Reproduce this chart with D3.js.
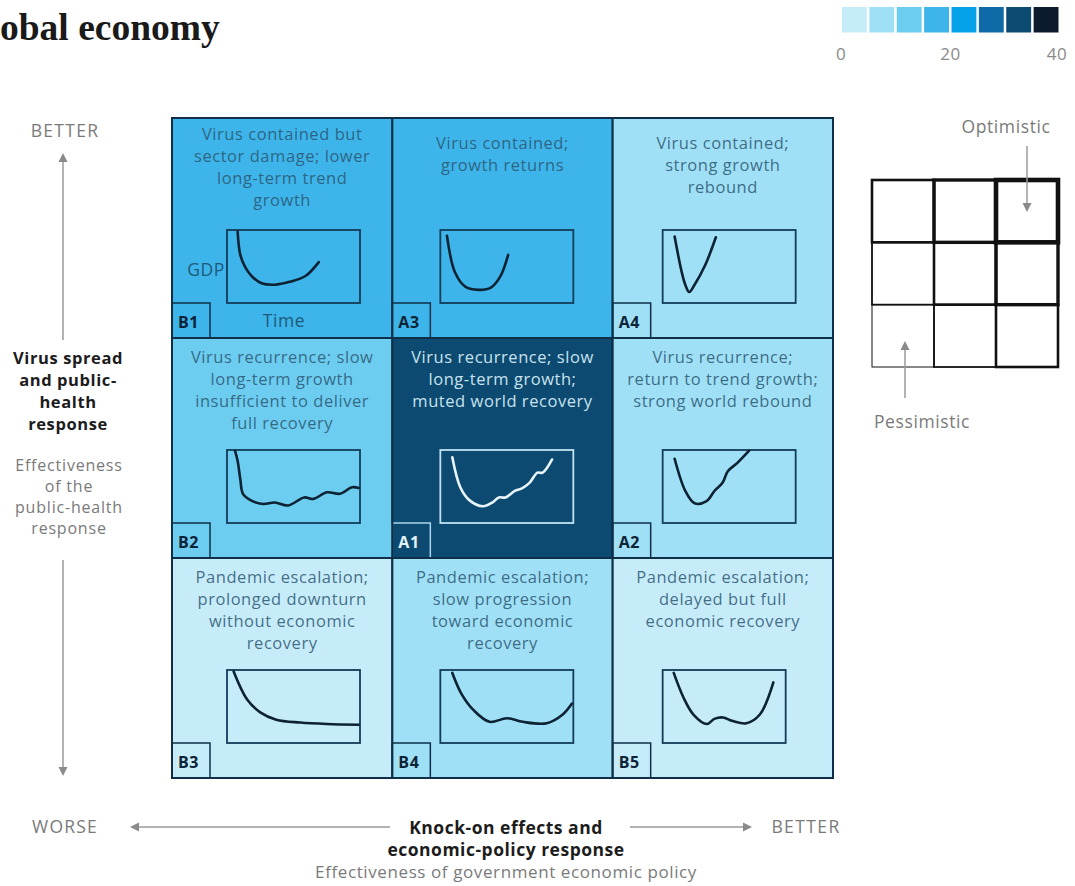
<!DOCTYPE html>
<html>
<head>
<meta charset="utf-8">
<script src="https://cdn.jsdelivr.net/npm/d3@7"></script>
<style>
  html, body { margin: 0; padding: 0; background: #fff; }
  svg { display: block; }
</style>
</head>
<body>
<svg id="chart" width="1075" height="886"></svg>
<script>
// ---------------- DATA ----------------
const cellCodes  = ["B1", "A3", "A4", "B2", "A1", "A2", "B3", "B4", "B5"];
const cellRows   = [0, 0, 0, 1, 1, 1, 2, 2, 2];
const cellCols   = [0, 1, 2, 0, 1, 2, 0, 1, 2];
const cellValues = [18, 17, 8, 13, 33, 7, 3, 8, 2];
const cellTexts = [
  ["Virus contained but", "sector damage; lower", "long-term trend", "growth"],
  ["Virus contained;", "growth returns"],
  ["Virus contained;", "strong growth", "rebound"],
  ["Virus recurrence; slow", "long-term growth", "insufficient to deliver", "full recovery"],
  ["Virus recurrence; slow", "long-term growth;", "muted world recovery"],
  ["Virus recurrence;", "return to trend growth;", "strong world rebound"],
  ["Pandemic escalation;", "prolonged downturn", "without economic", "recovery"],
  ["Pandemic escalation;", "slow progression", "toward economic", "recovery"],
  ["Pandemic escalation;", "delayed but full", "economic recovery"]
];
// GDP paths: [time %, GDP %] inside each small box
const gdpB1 = [[8,98],[10,66],[14,48],[19,36],[26,27],[36,25],[47,29],[59,37],[69,56]];
const gdpA3 = [[5,92],[11,42],[19,22],[29,18],[38,21],[45,36],[51,66]];
const gdpA4 = [[9,91],[14,45],[17,25],[20,15],[24,25],[32,52],[40,90]];
const gdpB2 = [[6,99],[8,85],[10,60],[12,40],[18,31],[27,26],[36,28],[46,24],[58,35],[65,33],[75,42],[85,40],[94,49],[99,48]];
const gdpA1 = [[9,90],[15,49],[22,31],[32,23],[39,28],[44,35],[49,35],[56,44],[61,47],[67,55],[73,69],[77,69],[84,87]];
const gdpA2 = [[9,88],[17,44],[24,27],[33,30],[39,44],[45,55],[49,71],[56,82],[65,99]];
const gdpB3 = [[5,98],[15,60],[25,42],[37,32],[55,28],[75,26],[99,25]];
const gdpB4 = [[9,96],[16,67],[25,45],[37,29],[50,34],[62,29],[80,27],[92,39],[99,54]];
const gdpB5 = [[9,96],[17,62],[25,39],[36,26],[42,33],[49,35],[57,30],[68,27],[79,39],[90,83]];
const gdpByCode = {B1: gdpB1, A3: gdpA3, A4: gdpA4, B2: gdpB2, A1: gdpA1, A2: gdpA2, B3: gdpB3, B4: gdpB4, B5: gdpB5};

const legendBins   = [0, 5, 10, 15, 20, 25, 30, 35];
const legendColors = ["#c6ecfa", "#9fe0f6", "#6ccdf0", "#3db4ea", "#05a2ea", "#0f6ba8", "#0c4a71", "#0b1b2d"];
const legendTicks  = [0, 20, 40];

const titleText = "obal economy"; // title is cropped at the left edge in the original

// ---------------- DRAW ----------------
const svg = d3.select("#chart");
const FONT = "'Open Sans', 'Noto Sans', sans-serif";
const DARK = "#0e2f47";
const GREY = "#7a7a7a";

svg.append("text")
  .attr("x", 0).attr("y", 40)
  .attr("font-family", "'Liberation Serif', 'Times New Roman', serif")
  .attr("font-weight", "bold")
  .attr("font-size", 37.5)
  .attr("fill", "#1a1a1a")
  .text(titleText);

// legend
const legendX = d3.scaleLinear().domain([0, 40]).range([841, 1060]);
const color = d3.scaleThreshold().domain(legendBins.slice(1)).range(legendColors);
const step = legendX(5) - legendX(0);
svg.append("g").selectAll("rect").data(legendBins).join("rect")
  .attr("x", d => legendX(d) + 1)
  .attr("y", 7)
  .attr("width", step - 2.5)
  .attr("height", 25.5)
  .attr("fill", (d, i) => legendColors[i]);
svg.append("g").selectAll("text").data(legendTicks).join("text")
  .attr("x", d => legendX(d) - (d === 40 ? 3 : 0))
  .attr("y", 60)
  .attr("text-anchor", "middle")
  .attr("font-family", FONT)
  .attr("font-size", 17)
  .attr("letter-spacing", 0.5)
  .attr("fill", "#8a8a8a")
  .text(d => d);

// main grid
const gx = d3.scaleBand().domain([0, 1, 2]).range([172, 833]);
const gy = d3.scaleBand().domain([0, 1, 2]).range([118, 778]);
const cells = cellCodes.map((c, i) => ({
  code: c, row: cellRows[i], col: cellCols[i], value: cellValues[i], lines: cellTexts[i], gdp: gdpByCode[c]
}));

const boxOffset = [55, 48, 50];
const firstLine = {B1: 22, A3: 31, A4: 31};

const cg = svg.append("g").selectAll("g.cell").data(cells).join("g").attr("class", "cell")
  .attr("transform", d => `translate(${gx(d.col)},${gy(d.row)})`);

const cw = gx.bandwidth(), ch = gy.bandwidth();

cg.append("rect")
  .attr("width", cw).attr("height", ch)
  .attr("fill", d => color(d.value));

cg.each(function(d) {
  const sel = d3.select(this);
  const dark = d.value >= 25;
  const txt = dark ? "#c8e2ee" : "#2b5670";
  const fl = firstLine[d.code] || 25;
  sel.append("g").selectAll("text").data(d.lines).join("text")
    .attr("x", cw / 2)
    .attr("y", (l, i) => fl + i * 22)
    .attr("text-anchor", "middle")
    .attr("font-family", FONT)
    .attr("font-size", 16.5)
    .attr("letter-spacing", 0.55)
    .attr("fill", txt)
    .attr("fill-opacity", dark ? 1 : 0.85)
    .text(l => l);

  const bx = boxOffset[d.col], by = 112, bw = d.code === "B5" ? 123 : 133, bh = 73;
  sel.append("rect")
    .attr("x", bx).attr("y", by).attr("width", bw).attr("height", bh)
    .attr("fill", "none")
    .attr("stroke", dark ? "#bfe2f1" : "#123c58")
    .attr("stroke-width", 1.8);
  const sx = d3.scaleLinear().domain([0, 100]).range([bx, bx + bw]);
  const sy = d3.scaleLinear().domain([0, 100]).range([by + bh, by]);
  const line = d3.line().x(p => sx(p[0])).y(p => sy(p[1])).curve(d3.curveCatmullRom.alpha(0.5));
  sel.append("path")
    .attr("d", line(d.gdp))
    .attr("fill", "none")
    .attr("stroke", dark ? "#e8f5fb" : "#0d2233")
    .attr("stroke-width", 2.6)
    .attr("stroke-linecap", "round")
    .attr("stroke-linejoin", "round");

  // code tag
  sel.append("rect")
    .attr("x", 0).attr("y", ch - 35).attr("width", 38).attr("height", 35)
    .attr("fill", "none")
    .attr("stroke", dark ? "#a9d6ea" : DARK)
    .attr("stroke-width", 1.5);
  sel.append("text")
    .attr("x", 6).attr("y", ch - 10)
    .attr("font-family", FONT)
    .attr("font-weight", "bold")
    .attr("font-size", 16)
    .attr("letter-spacing", 0.6)
    .attr("fill", dark ? "#e2f2f9" : "#0d2436")
    .text(d.code);

  if (d.code === "B1") {
    sel.append("text")
      .attr("x", bx - 2).attr("y", by + 46)
      .attr("text-anchor", "end")
      .attr("font-family", FONT).attr("font-size", 17.5)
      .attr("letter-spacing", 0.6)
      .attr("fill", "#1d5a7a")
      .text("GDP");
    sel.append("text")
      .attr("x", 112).attr("y", ch - 11)
      .attr("text-anchor", "middle")
      .attr("font-family", FONT).attr("font-size", 17.5)
      .attr("letter-spacing", 0.6)
      .attr("fill", "#1d5a7a")
      .text("Time");
  }
});

// grid lines on top
cg.append("rect")
  .attr("width", cw).attr("height", ch)
  .attr("fill", "none")
  .attr("stroke", DARK)
  .attr("stroke-width", 2);

// arrow helpers
function arrowHead(x, y, dir) {
  const s = 4.5, L = 9;
  let pts;
  if (dir === "up") pts = [[x, y], [x - s, y + L], [x + s, y + L]];
  if (dir === "down") pts = [[x, y], [x - s, y - L], [x + s, y - L]];
  if (dir === "left") pts = [[x, y], [x + L, y - s], [x + L, y + s]];
  if (dir === "right") pts = [[x, y], [x - L, y - s], [x - L, y + s]];
  svg.append("path").attr("d", d3.line()(pts) + "Z").attr("fill", "#8a8a8a");
}
function arrowLine(x1, y1, x2, y2) {
  svg.append("line").attr("x1", x1).attr("y1", y1).attr("x2", x2).attr("y2", y2)
    .attr("stroke", "#9a9a9a").attr("stroke-width", 1.5);
}
function label(x, y, t, size, ls, fill, bold) {
  svg.append("text").attr("x", x).attr("y", y).attr("text-anchor", "middle")
    .attr("font-family", FONT).attr("font-size", size).attr("letter-spacing", ls)
    .attr("font-weight", bold ? "bold" : "normal")
    .attr("fill", fill).text(t);
}

// left axis
label(65, 137, "BETTER", 17.5, 1.3, GREY);
arrowLine(63, 160, 63, 340); arrowHead(63, 153, "up");
arrowLine(63, 560, 63, 768); arrowHead(63, 776, "down");
const leftBold = ["Virus spread", "and public-", "health", "response"];
const leftGrey = ["Effectiveness", "of the", "public-health", "response"];
leftBold.forEach((t, i) => label(68, 364 + i * 22, t, 16.5, 0.6, "#1c1c1c", true));
leftGrey.forEach((t, i) => label(69, 471 + i * 21, t, 16, 0.8, GREY));

// bottom axis
label(65, 833, "WORSE", 17.5, 1.2, GREY);
label(806, 833, "BETTER", 17.5, 1.4, GREY);
arrowLine(138, 827, 390, 827); arrowHead(130, 827, "left");
arrowLine(630, 827, 744, 827); arrowHead(752, 827, "right");
const bottomBold = ["Knock-on effects and", "economic-policy response"];
bottomBold.forEach((t, i) => label(506, 834 + i * 22, t, 17.5, 0.5, "#1c1c1c", true));
label(506, 878, "Effectiveness of government economic policy", 17, 0.6, GREY);

// mini grid (scenario outlook)
const mx = d3.scaleBand().domain([0, 1, 2]).range([872, 1058]);
const my = d3.scaleBand().domain([0, 1, 2]).range([180, 367]);
const strokeByLevel = [1, 1.8, 2.6, 3.4, 4.6];
const mini = [];
[0, 1, 2].forEach(r => [0, 1, 2].forEach(c => mini.push({r, c, level: c + (2 - r)})));
mini.sort((a, b) => a.level - b.level);
svg.append("g").selectAll("rect").data(mini).join("rect")
  .attr("x", d => mx(d.c)).attr("y", d => my(d.r))
  .attr("width", mx.bandwidth()).attr("height", my.bandwidth())
  .attr("fill", "none").attr("stroke", "#111")
  .attr("stroke-width", d => strokeByLevel[d.level]);

label(1006, 133, "Optimistic", 17.5, 0.6, GREY);
arrowLine(1027, 146, 1027, 205); arrowHead(1027, 212, "down");
label(922, 428, "Pessimistic", 17.5, 0.6, GREY);
arrowLine(905, 348, 905, 398); arrowHead(905, 341, "up");
</script>
</body>
</html>
